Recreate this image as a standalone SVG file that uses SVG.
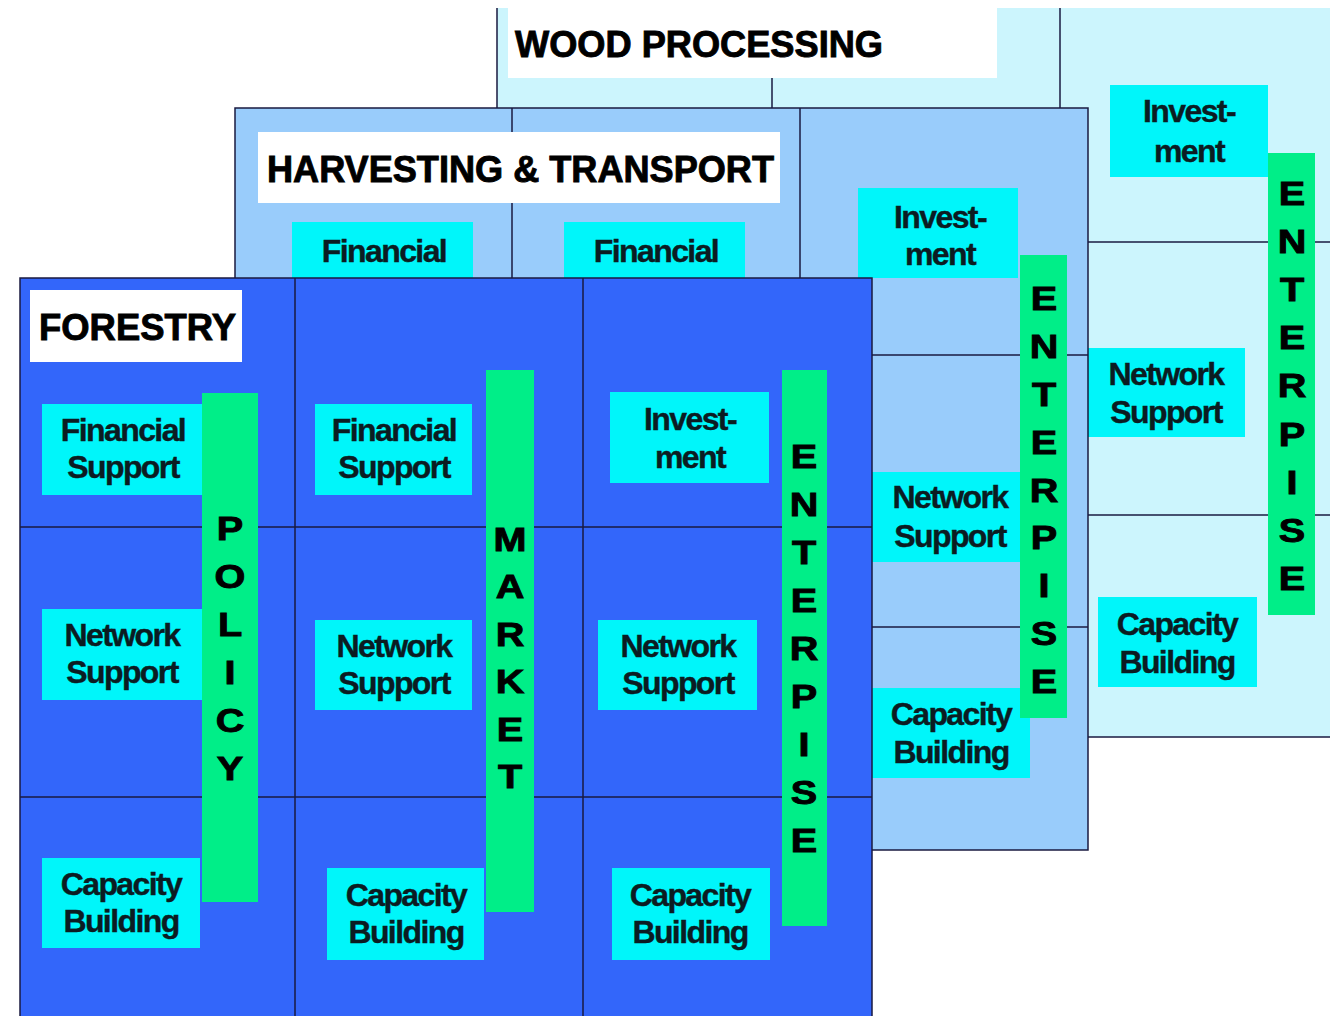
<svg xmlns="http://www.w3.org/2000/svg" width="1330" height="1016" viewBox="0 0 1330 1016">
<style>
.layer-back{fill:#ccf5fd;stroke:#1a1a40;stroke-width:1.5}
.layer-mid{fill:#99ccfb;stroke:#1a1a40;stroke-width:1.5}
.layer-front{fill:#3366fa;stroke:#1a1a40;stroke-width:1.5}
.grid line{stroke:#1a1a40;stroke-width:1.5}
.title-box{fill:#ffffff}
.title{font-family:"Liberation Sans",Arial,sans-serif;font-weight:bold;font-size:37px;fill:#000;stroke:#000;stroke-width:0.9}
.box{fill:#00f6fa}
.bt{font-family:"Liberation Sans",Arial,sans-serif;font-weight:bold;font-size:32px;letter-spacing:-1.6px;text-anchor:middle;fill:#0b1c22;stroke:#0b1c22;stroke-width:0.4}
.bar{fill:#00ee88}
.bl{font-family:"Liberation Sans",Arial,sans-serif;font-weight:bold;font-size:33px;text-anchor:middle;fill:#000;stroke:#000;stroke-width:0.9}
</style>
<rect x="0" y="0" width="1330" height="1016" fill="#ffffff"/>

<!-- BACK LAYER: WOOD PROCESSING -->
<g id="layer-wood-processing">
  <rect class="layer-back" x="497" y="-5" width="860" height="742"/>
  <g class="grid">
    <line x1="772" y1="-5" x2="772" y2="737"/>
    <line x1="1060" y1="-5" x2="1060" y2="737"/>
    <line x1="497" y1="242" x2="1330" y2="242"/>
    <line x1="497" y1="515" x2="1330" y2="515"/>
  </g>
  <rect x="0" y="0" width="1330" height="8" fill="#ffffff"/>
</g>
<g id="title-wood-processing">
  <rect class="title-box" x="508" y="8" width="489" height="70"/>
  <text class="title" x="515" y="57" textLength="368" lengthAdjust="spacingAndGlyphs">WOOD PROCESSING</text>
</g>
<g id="wp-investment">
  <rect class="box" x="1110" y="85" width="158" height="92"/>
  <text class="bt" x="1189" y="122">Invest-</text>
  <text class="bt" x="1189" y="162">ment</text>
</g>
<g id="wp-network-support">
  <rect class="box" x="1088" y="348" width="157" height="89"/>
  <text class="bt" x="1166" y="385">Network</text>
  <text class="bt" x="1166" y="423">Support</text>
</g>
<g id="wp-capacity-building">
  <rect class="box" x="1098" y="597" width="159" height="90"/>
  <text class="bt" x="1177" y="635">Capacity</text>
  <text class="bt" x="1177" y="673">Building</text>
</g>
<g id="wp-enterprise">
  <rect class="bar" x="1268" y="153" width="47" height="462"/>
  <text class="bl" transform="translate(1292 0) scale(1.2 1) translate(-1292 0)">
    <tspan x="1292" y="205">E</tspan><tspan x="1292" y="253">N</tspan><tspan x="1292" y="301">T</tspan><tspan x="1292" y="349">E</tspan><tspan x="1292" y="397">R</tspan><tspan x="1292" y="446">P</tspan><tspan x="1292" y="494">I</tspan><tspan x="1292" y="542">S</tspan><tspan x="1292" y="590">E</tspan>
  </text>
</g>

<!-- MIDDLE LAYER: HARVESTING & TRANSPORT -->
<g id="layer-harvesting-transport">
  <rect class="layer-mid" x="235" y="108" width="853" height="742"/>
  <g class="grid">
    <line x1="512" y1="108" x2="512" y2="850"/>
    <line x1="800" y1="108" x2="800" y2="850"/>
    <line x1="235" y1="355" x2="1088" y2="355"/>
    <line x1="235" y1="627" x2="1088" y2="627"/>
  </g>
</g>
<g id="title-harvesting-transport">
  <rect class="title-box" x="258" y="132" width="522" height="71"/>
  <text class="title" x="267" y="182" textLength="507" lengthAdjust="spacingAndGlyphs">HARVESTING &amp; TRANSPORT</text>
</g>
<g id="ht-financial-1">
  <rect class="box" x="292" y="222" width="181" height="70"/>
  <text class="bt" x="384" y="262">Financial</text>
</g>
<g id="ht-financial-2">
  <rect class="box" x="564" y="222" width="181" height="70"/>
  <text class="bt" x="656" y="262">Financial</text>
</g>
<g id="ht-investment">
  <rect class="box" x="858" y="188" width="160" height="90"/>
  <text class="bt" x="940" y="228">Invest-</text>
  <text class="bt" x="940" y="265">ment</text>
</g>
<g id="ht-network-support">
  <rect class="box" x="872" y="472" width="153" height="90"/>
  <text class="bt" x="950" y="508">Network</text>
  <text class="bt" x="950" y="547">Support</text>
</g>
<g id="ht-capacity-building">
  <rect class="box" x="872" y="688" width="158" height="90"/>
  <text class="bt" x="951" y="725">Capacity</text>
  <text class="bt" x="951" y="763">Building</text>
</g>
<g id="ht-enterprise">
  <rect class="bar" x="1020" y="255" width="47" height="463"/>
  <text class="bl" transform="translate(1044 0) scale(1.2 1) translate(-1044 0)">
    <tspan x="1044" y="310">E</tspan><tspan x="1044" y="358">N</tspan><tspan x="1044" y="406">T</tspan><tspan x="1044" y="454">E</tspan><tspan x="1044" y="502">R</tspan><tspan x="1044" y="549">P</tspan><tspan x="1044" y="597">I</tspan><tspan x="1044" y="645">S</tspan><tspan x="1044" y="693">E</tspan>
  </text>
</g>

<!-- FRONT LAYER: FORESTRY -->
<g id="layer-forestry">
  <rect class="layer-front" x="20" y="278" width="852" height="748"/>
  <g class="grid">
    <line x1="295" y1="278" x2="295" y2="1026"/>
    <line x1="583" y1="278" x2="583" y2="1026"/>
    <line x1="20" y1="527" x2="872" y2="527"/>
    <line x1="20" y1="797" x2="872" y2="797"/>
  </g>
</g>
<g id="title-forestry">
  <rect class="title-box" x="30" y="290" width="212" height="72"/>
  <text class="title" x="39" y="340" textLength="197" lengthAdjust="spacingAndGlyphs">FORESTRY</text>
</g>
<g id="f-financial-support-1">
  <rect class="box" x="42" y="404" width="160" height="91"/>
  <text class="bt" x="123" y="441">Financial</text>
  <text class="bt" x="123" y="478">Support</text>
</g>
<g id="f-network-support-1">
  <rect class="box" x="42" y="609" width="160" height="91"/>
  <text class="bt" x="122" y="646">Network</text>
  <text class="bt" x="122" y="683">Support</text>
</g>
<g id="f-capacity-building-1">
  <rect class="box" x="42" y="858" width="158" height="90"/>
  <text class="bt" x="121" y="895">Capacity</text>
  <text class="bt" x="121" y="932">Building</text>
</g>
<g id="f-policy">
  <rect class="bar" x="202" y="393" width="56" height="509"/>
  <text class="bl" transform="translate(230 0) scale(1.2 1) translate(-230 0)">
    <tspan x="230" y="540">P</tspan><tspan x="230" y="588">O</tspan><tspan x="230" y="636">L</tspan><tspan x="230" y="684">I</tspan><tspan x="230" y="732">C</tspan><tspan x="230" y="780">Y</tspan>
  </text>
</g>
<g id="f-financial-support-2">
  <rect class="box" x="315" y="404" width="157" height="91"/>
  <text class="bt" x="394" y="441">Financial</text>
  <text class="bt" x="394" y="478">Support</text>
</g>
<g id="f-network-support-2">
  <rect class="box" x="315" y="620" width="157" height="90"/>
  <text class="bt" x="394" y="657">Network</text>
  <text class="bt" x="394" y="694">Support</text>
</g>
<g id="f-capacity-building-2">
  <rect class="box" x="327" y="868" width="157" height="92"/>
  <text class="bt" x="406" y="906">Capacity</text>
  <text class="bt" x="406" y="943">Building</text>
</g>
<g id="f-market">
  <rect class="bar" x="486" y="370" width="48" height="542"/>
  <text class="bl" transform="translate(510 0) scale(1.2 1) translate(-510 0)">
    <tspan x="510" y="551">M</tspan><tspan x="510" y="598">A</tspan><tspan x="510" y="646">R</tspan><tspan x="510" y="693">K</tspan><tspan x="510" y="741">E</tspan><tspan x="510" y="788">T</tspan>
  </text>
</g>
<g id="f-investment">
  <rect class="box" x="610" y="392" width="159" height="91"/>
  <text class="bt" x="690" y="430">Invest-</text>
  <text class="bt" x="690" y="468">ment</text>
</g>
<g id="f-network-support-3">
  <rect class="box" x="598" y="620" width="159" height="90"/>
  <text class="bt" x="678" y="657">Network</text>
  <text class="bt" x="678" y="694">Support</text>
</g>
<g id="f-capacity-building-3">
  <rect class="box" x="612" y="868" width="158" height="92"/>
  <text class="bt" x="690" y="906">Capacity</text>
  <text class="bt" x="690" y="943">Building</text>
</g>
<g id="f-enterprise">
  <rect class="bar" x="782" y="370" width="45" height="556"/>
  <text class="bl" transform="translate(804 0) scale(1.2 1) translate(-804 0)">
    <tspan x="804" y="468">E</tspan><tspan x="804" y="516">N</tspan><tspan x="804" y="564">T</tspan><tspan x="804" y="612">E</tspan><tspan x="804" y="660">R</tspan><tspan x="804" y="708">P</tspan><tspan x="804" y="756">I</tspan><tspan x="804" y="804">S</tspan><tspan x="804" y="852">E</tspan>
  </text>
</g>
<g id="connectors"></g>
</svg>
